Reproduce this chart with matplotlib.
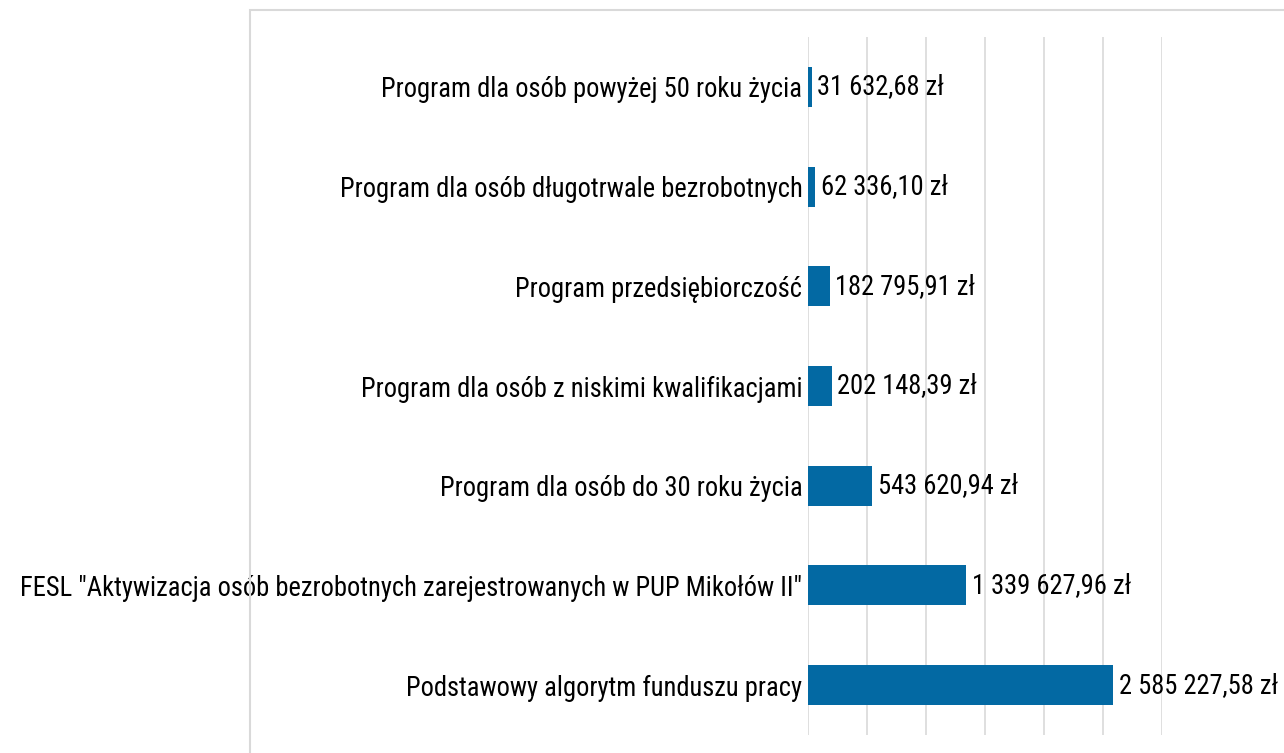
import matplotlib
matplotlib.use("Agg")
import matplotlib.pyplot as plt
from matplotlib import font_manager as fm
from matplotlib.patches import Rectangle
from matplotlib.ticker import MultipleLocator

categories = [
    'Program dla osób powyżej 50 roku życia',
    'Program dla osób długotrwale bezrobotnych',
    'Program przedsiębiorczość',
    'Program dla osób z niskimi kwalifikacjami',
    'Program dla osób do 30 roku życia',
    'FESL "Aktywizacja osób bezrobotnych zarejestrowanych w PUP Mikołów II"',
    'Podstawowy algorytm funduszu pracy',
]
values = [31632.68, 62336.10, 182795.91, 202148.39, 543620.94, 1339627.96, 2585227.58]
value_labels = ['31 632,68 zł', '62 336,10 zł', '182 795,91 zł', '202 148,39 zł',
                '543 620,94 zł', '1 339 627,96 zł', '2 585 227,58 zł']

# pick a narrow sans font if one is installed (Calibri-like look)
def pick_font():
    prefs = ['narrow', 'condensed']
    cands = []
    for f in fm.fontManager.ttflist:
        name = f.name.lower()
        path = f.fname.lower()
        if 'mono' in name or 'serif' in name and 'sans' not in name:
            continue
        if f.style != 'normal' or f.weight not in (400, 'normal', 'regular'):
            continue
        if any(p in name or p in path for p in prefs) or f.stretch in ('condensed', 'semi-condensed'):
            if 'bold' in path or 'italic' in path or 'light' in path or 'oblique' in path:
                continue
            cands.append(f.fname)
    order = ['liberationsansnarrow', 'opensans', 'roboto', 'dejavusanscondensed', 'noto']
    def key(p):
        pl = p.lower().replace('-', '').replace('_', '')
        for i, o in enumerate(order):
            if o in pl:
                return i
        return len(order)
    cands.sort(key=key)
    return cands[0] if cands else None

fpath = pick_font()
if fpath:
    fp = fm.FontProperties(fname=fpath)
else:
    fp = fm.FontProperties(family='DejaVu Sans')

W, H = 1284, 753
fig = plt.figure(figsize=(W / 100, H / 100), dpi=100)
fig.patch.set_facecolor('white')

# size the font so the first category label spans ~420 px like the reference
probe = fig.text(0, 0, categories[0], fontproperties=fp, fontsize=20)
fig.canvas.draw()
wpx = probe.get_window_extent().width
probe.remove()
fs = 20 * 420.0 / wpx
fp.set_size(fs)

# outer chart frame
fig.patches.append(Rectangle((250 / W, -0.1), 1.0, (1 - 10.5 / H) + 0.1,
                             transform=fig.transFigure, fill=False,
                             edgecolor='#d9d9d9', linewidth=1.5))

ax = fig.add_axes([808 / W, 1 - 735 / H, (1162 - 808) / W, (735 - 37) / H])
y = list(range(len(categories)))
ax.barh(y, values, height=0.4, color='#0369a3', zorder=3)
ax.set_ylim(len(categories) - 0.5, -0.5)
ax.set_xlim(0, 3000000)
ax.xaxis.set_major_locator(MultipleLocator(500000))
ax.grid(axis='x', color='#d9d9d9', linewidth=1.2, zorder=0)
ax.set_xticklabels([])
ax.tick_params(axis='x', length=0)
ax.tick_params(axis='y', length=0, pad=4)
ax.set_yticks(y)
ax.set_yticklabels(categories, fontproperties=fp, color='black')
for s in ax.spines.values():
    s.set_visible(False)

for yi, v, lab in zip(y, values, value_labels):
    ax.annotate(lab, (v, yi), xytext=(4, 0), textcoords='offset points',
                va='center', ha='left', fontproperties=fp, color='black',
                annotation_clip=False)

fig.savefig('out.png', dpi=100, facecolor='white')
